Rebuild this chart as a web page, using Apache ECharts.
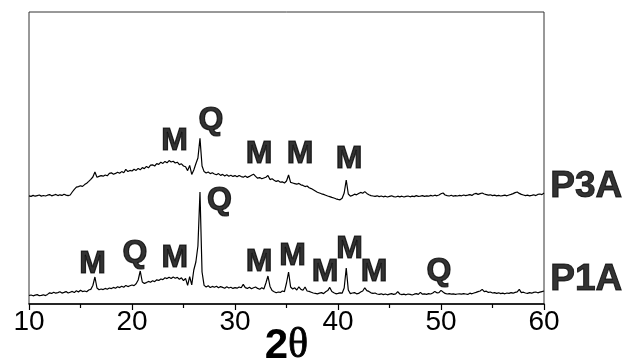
<!DOCTYPE html>
<html>
<head>
<meta charset="utf-8">
<script src="https://cdn.jsdelivr.net/npm/echarts@6/dist/echarts.min.js"></script>
<style>html,body{margin:0;padding:0;background:#fff;}#c{width:630px;height:364px;}</style>
</head>
<body>
<div id="c"></div>
<script>
// 2θ sampling positions (degrees)
var twoTheta = [
10.0,10.2,10.4,10.6,10.8,11.0,11.2,11.4,11.6,11.8,
12.0,12.2,12.4,12.6,12.8,13.0,13.2,13.4,13.6,13.8,
14.0,14.2,14.4,14.6,14.8,15.0,15.2,15.4,15.6,15.8,
16.0,16.2,16.4,16.6,16.8,17.0,17.2,17.4,17.6,17.8,
18.0,18.2,18.4,18.6,18.8,19.0,19.2,19.4,19.6,19.8,
20.0,20.2,20.4,20.6,20.8,21.0,21.2,21.4,21.6,21.8,
22.0,22.2,22.4,22.6,22.8,23.0,23.2,23.4,23.6,23.8,
24.0,24.2,24.4,24.6,24.8,25.0,25.2,25.4,25.6,25.8,
26.0,26.2,26.4,26.6,26.8,27.0,27.2,27.4,27.6,27.8,
28.0,28.2,28.4,28.6,28.8,29.0,29.2,29.4,29.6,29.8,
30.0,30.2,30.4,30.6,30.8,31.0,31.2,31.4,31.6,31.8,
32.0,32.2,32.4,32.6,32.8,33.0,33.2,33.4,33.6,33.8,
34.0,34.2,34.4,34.6,34.8,35.0,35.2,35.4,35.6,35.8,
36.0,36.2,36.4,36.6,36.8,37.0,37.2,37.4,37.6,37.8,
38.0,38.2,38.4,38.6,38.8,39.0,39.2,39.4,39.6,39.8,
40.0,40.2,40.4,40.6,40.8,41.0,41.2,41.4,41.6,41.8,
42.0,42.2,42.4,42.6,42.8,43.0,43.2,43.4,43.6,43.8,
44.0,44.2,44.4,44.6,44.8,45.0,45.2,45.4,45.6,45.8,
46.0,46.2,46.4,46.6,46.8,47.0,47.2,47.4,47.6,47.8,
48.0,48.2,48.4,48.6,48.8,49.0,49.2,49.4,49.6,49.8,
50.0,50.2,50.4,50.6,50.8,51.0,51.2,51.4,51.6,51.8,
52.0,52.2,52.4,52.6,52.8,53.0,53.2,53.4,53.6,53.8,
54.0,54.2,54.4,54.6,54.8,55.0,55.2,55.4,55.6,55.8,
56.0,56.2,56.4,56.6,56.8,57.0,57.2,57.4,57.6,57.8,
58.0,58.2,58.4,58.6,58.8,59.0,59.2,59.4,59.6,59.8,
60.0
];

// Intensity (arbitrary, offset) for sample P1A
var p1a = [
8.5,9.0,8.2,8.8,9.4,8.3,8.6,9.2,8.4,9.6,
11.2,10.6,11.8,10.8,11.4,12.2,10.9,11.6,12.4,11.0,
11.8,12.6,11.4,13.2,12.0,13.8,12.4,13.0,12.2,14.0,
14.6,18.5,27.0,16.0,14.2,15.0,14.4,15.6,14.8,16.0,
15.4,16.6,15.8,17.2,16.4,17.8,16.8,18.6,17.4,18.2,
19.0,18.4,20.2,24.0,33.0,22.0,20.6,21.4,22.6,21.8,
23.2,22.4,24.2,23.6,25.0,24.4,26.2,25.4,26.8,25.6,
27.0,25.8,26.6,24.8,26.2,23.4,25.6,18.6,27.4,19.2,
34.0,42.0,58.0,112.0,32.0,18.6,17.0,18.2,16.4,17.6,
16.8,17.8,16.2,17.4,16.6,15.8,17.2,16.0,16.8,15.6,
16.4,15.8,17.0,16.2,19.6,16.4,15.6,16.8,15.2,16.2,
17.0,15.6,14.8,16.2,15.0,21.0,28.0,17.6,13.4,12.2,
11.2,12.0,11.6,13.0,12.4,21.0,32.0,17.0,15.0,16.2,
14.0,17.2,14.6,13.8,17.0,13.0,12.6,11.8,11.0,10.6,
10.2,10.8,11.4,10.4,12.2,13.4,16.6,12.4,11.2,10.2,
10.6,11.2,10.8,16.0,36.0,14.0,10.4,11.0,11.4,10.2,
10.6,12.0,13.0,16.2,13.4,12.6,11.2,10.6,11.0,10.0,
9.6,10.2,9.4,10.0,9.2,9.8,10.4,9.6,10.2,12.4,
10.0,9.4,9.8,9.2,10.0,9.6,9.0,9.8,10.4,9.6,
11.6,9.8,10.2,9.6,10.4,10.0,11.0,12.6,11.2,11.4,
13.6,12.0,10.6,10.0,10.4,9.8,10.2,9.6,10.0,10.2,
9.8,10.4,10.0,9.6,10.8,10.2,11.0,11.6,12.4,13.0,
14.6,12.4,12.8,11.6,12.0,11.0,11.4,10.6,11.2,10.4,
10.8,10.2,11.0,10.6,11.4,10.8,11.6,12.2,14.6,11.4,
11.8,11.0,10.6,11.4,10.8,11.6,12.0,11.2,11.8,12.4,
13.0
];

// Intensity (arbitrary, offset) for sample P3A
var p3a = [
108.2,107.6,108.6,107.8,108.4,109.0,107.9,108.5,108.0,108.8,
109.4,108.2,108.8,109.6,108.4,109.2,108.6,109.8,108.9,108.4,
109.0,112.0,114.6,116.8,117.4,118.2,117.6,119.4,120.8,122.6,
124.6,127.0,132.0,126.8,127.6,128.4,127.8,129.0,128.2,130.6,
131.2,129.8,130.6,131.8,130.8,132.4,131.2,134.6,132.4,133.6,
133.0,134.8,133.6,135.6,134.2,136.4,135.4,137.6,136.2,138.8,
139.2,138.0,140.4,139.6,141.8,140.6,142.6,141.2,143.4,142.0,
142.8,141.0,141.8,139.4,140.2,138.0,137.2,133.4,138.6,129.6,
134.0,140.2,146.0,165.6,138.0,132.4,131.0,132.0,130.4,131.2,
130.0,129.2,130.4,128.6,129.6,128.0,129.2,127.8,128.8,127.6,
128.4,127.2,128.6,127.4,126.8,128.0,126.6,127.6,128.8,129.8,
127.6,125.8,126.4,125.2,126.0,126.8,128.6,124.4,125.2,123.8,
122.6,123.4,121.8,122.2,121.0,123.0,129.0,121.6,121.0,120.4,
119.8,120.6,119.2,118.6,117.4,118.0,116.2,115.4,114.2,113.0,
111.8,111.0,110.2,109.6,108.8,108.0,107.4,106.6,106.0,105.2,
104.6,104.2,105.8,111.0,124.0,110.0,107.8,108.6,109.8,109.2,
110.4,111.6,110.8,112.4,110.6,109.2,108.4,108.0,107.6,108.2,
107.4,108.0,107.2,107.8,107.0,107.6,108.2,107.4,107.0,107.8,
107.2,107.8,107.0,107.6,108.0,107.2,107.8,107.4,108.4,107.6,
107.8,108.4,107.6,108.2,107.8,108.6,108.0,108.8,108.2,109.0,
110.2,111.0,109.0,108.4,108.0,108.8,107.8,108.4,108.0,108.6,
108.2,109.0,108.4,108.8,109.4,108.6,110.0,110.6,109.6,110.4,
111.0,110.0,109.4,108.8,109.2,108.4,108.8,108.2,108.6,108.0,
108.4,108.8,108.2,109.0,109.6,110.4,111.4,112.0,110.6,109.6,
109.0,108.4,108.8,108.2,108.6,109.2,108.4,109.6,110.0,109.4,
111.0
];

// Phase annotations: text, 2θ position, intensity position
var peakLabelText = ['M','Q','M','M','M', 'Q','M','Q','M','M','M','M','M','M','Q'];
var peakLabelX    = [24.13,27.67,32.33,36.31,41.07, 28.50,16.17,20.29,24.17,32.33,35.58,41.12,38.74,43.50,49.81];
var peakLabelY    = [162.5,183.5,149.5,149.5,144.5, 103.5,39.5,50.5,46,42,48,55,31.5,31.5,33];

// Sample names
var sampleNames = ['P3A','P1A'];
var sampleNameX = [64.1,64.1];
var sampleNameY = [117.5,24];

var xTicks = [10,20,30,40,50,60];

function zip(xs, ys){ var out=[]; for (var i=0;i<xs.length;i++) out.push([xs[i], ys[i]]); return out; }
var labelData = [];
for (var i=0;i<peakLabelText.length;i++) labelData.push({value:[peakLabelX[i], peakLabelY[i]], name: peakLabelText[i]});
var sampleData = [];
for (var j=0;j<sampleNames.length;j++) sampleData.push({value:[sampleNameX[j], sampleNameY[j]], name: sampleNames[j]});

var chart = echarts.init(document.getElementById('c'), null, {renderer:'canvas'});
chart.setOption({
  animation: false,
  backgroundColor: '#fff',
  grid: {left: 29, right: 86, top: 12, bottom: 60, containLabel: false, outerBoundsMode: 'none',
         show: true, borderColor: '#333', borderWidth: 1, backgroundColor: 'transparent'},
  xAxis: {
    type: 'value', min: xTicks[0], max: xTicks[xTicks.length-1], interval: 10,
    axisLine: {lineStyle: {color: '#000', width: 1.5}},
    axisTick: {show: true, inside: false, length: 6, lineStyle: {color: '#000', width: 1.2}},
    minorTick: {show: true, splitNumber: 2, length: 4, lineStyle: {color: '#000', width: 1.2}},
    splitLine: {show: false},
    axisLabel: {fontSize: 28, color: '#000', fontFamily: 'Liberation Sans, Arial', margin: 4},
    name: '{a|2}{b|θ}', nameLocation: 'middle', nameGap: 21, nameMoveOverlap: false,
    nameTextStyle: {verticalAlign: 'top', rich: {
      a: {fontSize: 42, fontWeight: 'bold', fontFamily: 'Liberation Sans, Arial', color: '#000'},
      b: {fontSize: 42, fontFamily: 'Liberation Serif, Times New Roman', color: '#000', textBorderColor: '#000', textBorderWidth: 0.8}
    }}
  },
  yAxis: {type: 'value', min: 0, max: 292, show: false, splitLine: {show: false}},
  series: [
    {type: 'line', data: zip(twoTheta, p1a), showSymbol: false, lineStyle: {color: '#000', width: 1.2}, silent: true},
    {type: 'line', data: zip(twoTheta, p3a), showSymbol: false, lineStyle: {color: '#000', width: 1.2}, silent: true},
    {type: 'scatter', data: labelData, symbolSize: 0.1, clip: false, itemStyle: {color: 'rgba(0,0,0,0)'}, silent: true,
      label: {show: true, position: 'inside', formatter: '{b}', color: '#000', fontSize: 32, fontWeight: 'bold',
              fontFamily: 'Liberation Sans, Arial', textBorderColor: '#000', textBorderWidth: 1.2}},
    {type: 'scatter', data: sampleData, symbolSize: 0.1, clip: false, itemStyle: {color: 'rgba(0,0,0,0)'}, silent: true,
      label: {show: true, position: 'inside', formatter: '{b}', color: '#000', fontSize: 37, fontWeight: 'bold',
              fontFamily: 'Liberation Sans, Arial', textBorderColor: '#000', textBorderWidth: 1}}
  ]
});
</script>
</body>
</html>
